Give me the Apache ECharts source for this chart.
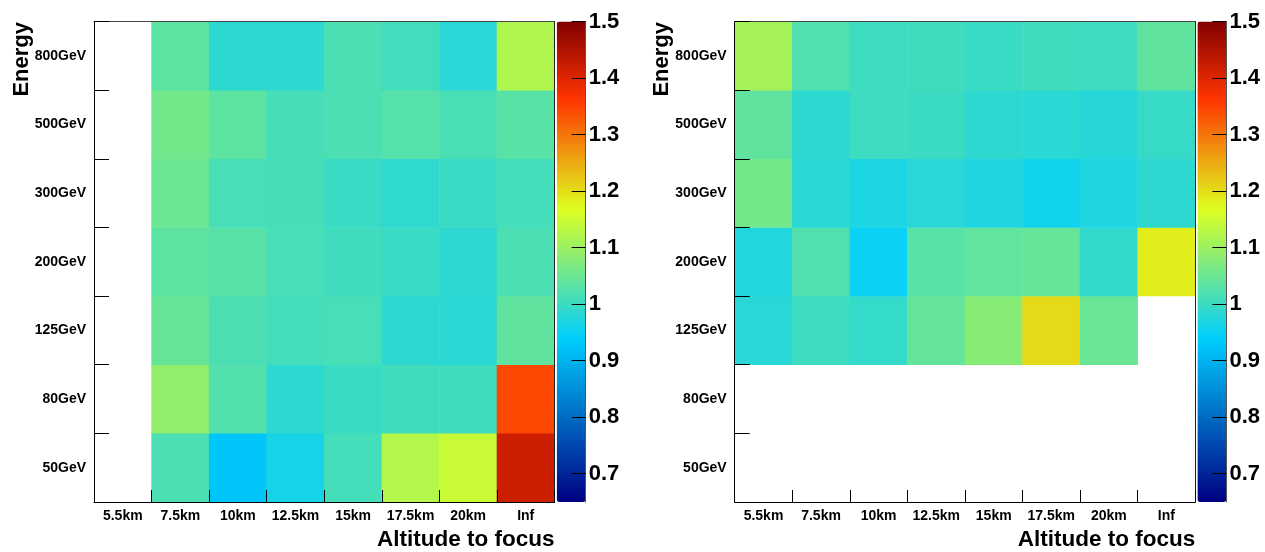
<!DOCTYPE html>
<html>
<head>
<meta charset="utf-8">
<script src="https://cdn.jsdelivr.net/npm/echarts@6/dist/echarts.min.js"></script>
<style>
html,body{margin:0;padding:0;background:#fff;}
#chart{width:1265px;height:552px;}
</style>
</head>
<body>
<div id="chart"></div>
<script>
// ---- data ----
const altitudes = ['5.5km', '7.5km', '10km', '12.5km', '15km', '17.5km', '20km', 'Inf'];
const energies = ['50GeV', '80GeV', '125GeV', '200GeV', '300GeV', '500GeV', '800GeV'];
const zMin = 0.65;
const zMax = 1.5;
// rows follow energies (bottom to top), columns follow altitudes; null = empty bin
const leftZ = [
  [null, 1.017, 0.925, 0.962, 1.009, 1.125, 1.146, 1.420],
  [null, 1.089, 1.024, 0.986, 1.000, 1.005, 1.005, 1.344],
  [null, 1.045, 1.017, 1.009, 1.013, 0.986, 0.983, 1.037],
  [null, 1.035, 1.030, 1.013, 1.005, 0.999, 0.986, 1.017],
  [null, 1.050, 1.013, 1.011, 0.999, 0.988, 0.999, 1.010],
  [null, 1.058, 1.035, 1.011, 1.017, 1.027, 1.015, 1.030],
  [null, 1.035, 0.986, 0.986, 1.017, 1.007, 0.981, 1.120]
];
const rightZ = [
  [null, null, null, null, null, null, null, null],
  [null, null, null, null, null, null, null, null],
  [0.981, 1.003, 0.993, 1.042, 1.079, 1.204, 1.047, null],
  [0.973, 1.022, 0.949, 1.030, 1.039, 1.045, 0.990, 1.185],
  [1.058, 0.983, 0.968, 0.981, 0.972, 0.958, 0.970, 0.986],
  [1.037, 0.986, 1.003, 1.000, 0.986, 0.983, 0.979, 0.996],
  [1.110, 1.022, 1.003, 1.005, 0.999, 1.005, 1.003, 1.037]
];
const xTitle = 'Altitude to focus';
const yTitle = 'Energy';

// ---- ROOT "pretty" palette (styling) ----
function rootPalette(n) {
  const st = [0.00, 0.34, 0.61, 0.84, 1.00];
  const r = [0.00, 0.00, 0.87, 1.00, 0.51];
  const g = [0.00, 0.81, 1.00, 0.20, 0.00];
  const b = [0.51, 1.00, 0.12, 0.00, 0.00];
  const out = [];
  for (let i = 0; i < n; i++) {
    const t = i / (n - 1);
    let k = 0;
    while (k < st.length - 2 && t > st[k + 1]) k++;
    const f = (t - st[k]) / (st[k + 1] - st[k]);
    const c = (a) => Math.round(255 * (a[k] + (a[k + 1] - a[k]) * f));
    out.push('rgb(' + c(r) + ',' + c(g) + ',' + c(b) + ')');
  }
  return out;
}
const palette = rootPalette(171);

function toData(z) {
  const d = [];
  z.forEach((row, yi) => row.forEach((v, xi) => { if (v !== null) d.push([xi, yi, v]); }));
  return d;
}

const FONT = '"Liberation Sans", Arial, Helvetica, sans-serif';
const panels = [
  { left: 94, z: leftZ },
  { left: 734.7, z: rightZ }
];
const plotW = 460.5, plotTop = 21.5, plotH = 480.5;
const barW = 29, barGap = 2.2;

const grid = [], xAxis = [], yAxis = [], series = [], visualMap = [], graphic = [];
panels.forEach((p, i) => {
  // heatmap grid
  grid.push({ left: p.left, top: plotTop, width: plotW, height: plotH, show: false, containLabel: false });
  const gi = grid.length - 1;
  xAxis.push({ type: 'category', gridIndex: gi, data: altitudes, position: 'bottom', z: 10,
    axisLine: { show: true, onZero: false, lineStyle: { color: '#000', width: 1 } },
    axisTick: { show: true, inside: true, length: 12, interval: 0, lineStyle: { color: '#000' } },
    axisLabel: { interval: 0, margin: 7, color: '#000', fontFamily: FONT, fontWeight: 'bold', fontSize: 14 },
    splitLine: { show: false }, splitArea: { show: false } });
  const xi = xAxis.length - 1;
  yAxis.push({ type: 'category', gridIndex: gi, data: energies, position: 'left', z: 10,
    axisLine: { show: true, onZero: false, lineStyle: { color: '#000', width: 1 } },
    axisTick: { show: true, inside: true, length: 15, interval: 0, lineStyle: { color: '#000' } },
    axisLabel: { interval: 0, margin: 8, color: '#000', fontFamily: FONT, fontWeight: 'bold', fontSize: 14 },
    splitLine: { show: false }, splitArea: { show: false } });
  const yi = yAxis.length - 1;
  // frame lines (top / right)
  xAxis.push({ type: 'category', gridIndex: gi, data: altitudes, position: 'top', z: 10,
    axisLine: { show: true, onZero: false, lineStyle: { color: '#444', width: 1 } },
    axisTick: { show: false }, axisLabel: { show: false }, splitLine: { show: false } });
  yAxis.push({ type: 'category', gridIndex: gi, data: energies, position: 'right', z: 10,
    axisLine: { show: true, onZero: false, lineStyle: { color: '#222', width: 1 } },
    axisTick: { show: false }, axisLabel: { show: false }, splitLine: { show: false } });
  series.push({ type: 'heatmap', xAxisIndex: xi, yAxisIndex: yi,
    data: toData(p.z), itemStyle: { borderWidth: 0 }, emphasis: { disabled: true }, z: 1 });
  visualMap.push({ type: 'continuous', seriesIndex: series.length - 1, min: zMin, max: zMax,
    calculable: false, hoverLink: false, realtime: false, padding: 0, z: 2,
    left: p.left + plotW + barGap, top: plotTop, itemWidth: barW, itemHeight: plotH,
    inRange: { color: palette }, outOfRange: { color: ['#fff'] } });
  // colorbar axis grid
  grid.push({ left: p.left + plotW + barGap, top: plotTop, width: barW, height: plotH, show: false });
  const ci = grid.length - 1;
  xAxis.push({ type: 'value', gridIndex: ci, show: false, min: 0, max: 1 });
  yAxis.push({ type: 'value', gridIndex: ci, min: zMin, max: zMax, splitNumber: 8, position: 'right', z: 20,
    axisLine: { show: true, onZero: false, lineStyle: { color: '#555', width: 1 } },
    axisTick: { show: true, inside: true, length: 14, lineStyle: { color: '#000' } },
    axisLabel: { showMinLabel: false, margin: 3, color: '#000', fontFamily: FONT, fontWeight: 'bold', fontSize: 22 },
    splitLine: { show: false } });
  // titles
  graphic.push({ type: 'text', x: p.left + plotW, y: 540,
    style: { text: xTitle, font: 'bold 22.5px ' + FONT, fill: '#000', align: 'right', verticalAlign: 'middle' } });
  graphic.push({ type: 'text', x: p.left - 72.5, y: 22, rotation: Math.PI / 2,
    style: { text: yTitle, font: 'bold 22px ' + FONT, fill: '#000', align: 'right', verticalAlign: 'middle' } });
});

const chart = echarts.init(document.getElementById('chart'), null, { renderer: 'canvas' });
chart.setOption({
  animation: false,
  backgroundColor: '#fff',
  grid, xAxis, yAxis, series, visualMap, graphic
});
</script>
</body>
</html>
